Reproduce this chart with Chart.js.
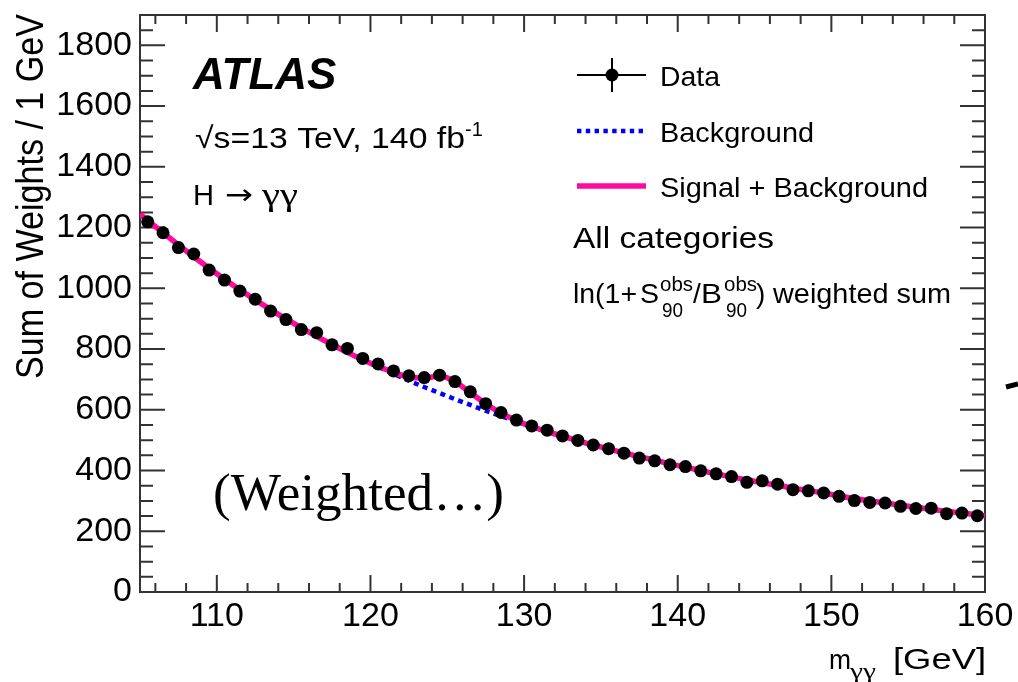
<!DOCTYPE html>
<html>
<head>
<meta charset="utf-8">
<script src="https://cdn.jsdelivr.net/npm/chart.js@4.4.1/dist/chart.umd.min.js"></script>
<style>
  html, body { margin: 0; padding: 0; background: #ffffff; }
  canvas { display: block; }
</style>
</head>
<body>
<canvas id="massPlot" width="1018" height="682"></canvas>
<script>
// Diphoton invariant mass bins (1 GeV wide, bin centres)
const massBins = [
  105.5, 106.5, 107.5, 108.5, 109.5, 110.5, 111.5, 112.5, 113.5, 114.5,
  115.5, 116.5, 117.5, 118.5, 119.5, 120.5, 121.5, 122.5, 123.5, 124.5,
  125.5, 126.5, 127.5, 128.5, 129.5, 130.5, 131.5, 132.5, 133.5, 134.5,
  135.5, 136.5, 137.5, 138.5, 139.5, 140.5, 141.5, 142.5, 143.5, 144.5,
  145.5, 146.5, 147.5, 148.5, 149.5, 150.5, 151.5, 152.5, 153.5, 154.5,
  155.5, 156.5, 157.5, 158.5, 159.5
];

// Weighted event sums per bin
const sumOfWeights = [
  1219, 1183, 1134, 1113, 1060, 1027, 991, 964, 925, 897,
  864, 854, 814, 802, 769, 751, 728, 712, 706, 714,
  693, 659, 620, 591, 566, 547, 533, 514, 499, 484,
  472, 457, 441, 432, 419, 413, 399, 389, 380, 361,
  366, 355, 337, 333, 326, 315, 301, 295, 293, 282,
  275, 276, 258, 260, 251
];

// Mass points at which the fitted curves are evaluated
const curveMass = [
  105, 105.5, 106.5, 107.5, 108.5, 109.5, 110.5, 111.5, 112.5, 113.5, 114.5,
  115.5, 116.5, 117.5, 118.5, 119.5, 120.5, 121.5, 122.5, 123.5, 124.5,
  125.5, 126.5, 127.5, 128.5, 129.5, 130.5, 131.5, 132.5, 133.5, 134.5,
  135.5, 136.5, 137.5, 138.5, 139.5, 140.5, 141.5, 142.5, 143.5, 144.5,
  145.5, 146.5, 147.5, 148.5, 149.5, 150.5, 151.5, 152.5, 153.5, 154.5,
  155.5, 156.5, 157.5, 158.5, 159.5, 160
];

// Background-only fit
const backgroundFit = [
  1244, 1224, 1183, 1143, 1104, 1066, 1030, 995, 962, 930, 899,
  870, 842, 815, 789, 764, 741, 718, 696, 675, 655,
  635, 616, 597, 579, 561, 544, 528, 513, 498, 484,
  471, 458, 446, 434, 422, 411, 400, 389, 379, 369,
  360, 351, 342, 334, 326, 316, 308, 300, 293, 286,
  279, 272, 266, 260, 254, 251
];

// Signal + background fit
const signalPlusBackgroundFit = [
  1244, 1224, 1183, 1143, 1104, 1066, 1030, 995, 962, 930, 899,
  870, 842, 815, 789, 765, 743, 723, 708, 705, 711,
  693, 656, 620, 589, 565, 545, 528, 513, 498, 484,
  471, 458, 446, 434, 422, 411, 400, 389, 379, 369,
  360, 351, 342, 334, 326, 316, 308, 300, 293, 286,
  279, 272, 266, 260, 254, 251
];

// Axis tick labels
const xTickValues = [110, 120, 130, 140, 150, 160];
const yTickValues = [0, 200, 400, 600, 800, 1000, 1200, 1400, 1600, 1800];

const SANS = '"Liberation Sans", Arial, Helvetica, sans-serif';
const SERIF = '"Liberation Serif", "Times New Roman", serif';
const PINK = '#ff0a9c';
const BLUE = '#0000ff';
const AXIS = '#333333';

// Draw text, optionally stretched horizontally to a given advance width
function drawText(ctx, s, x, y, font, width) {
  ctx.save();
  ctx.font = font;
  ctx.fillStyle = '#000';
  ctx.textAlign = 'left';
  ctx.textBaseline = 'alphabetic';
  const w = ctx.measureText(s).width;
  const sx = width ? width / w : 1;
  ctx.translate(x, y);
  ctx.scale(sx, 1);
  ctx.fillText(s, 0, 0);
  ctx.restore();
}

// Frame with inward-pointing major and minor ticks on all four sides
const frameAndTicks = {
  id: 'frameAndTicks',
  beforeDatasetsDraw(chart) {
    const { ctx, chartArea: a, scales: { x, y } } = chart;
    ctx.save();
    ctx.strokeStyle = AXIS;
    ctx.lineWidth = 2;
    ctx.beginPath();
    for (let v = 50; v < y.max; v += 50) {
      const py = y.getPixelForValue(v);
      const len = v % 200 === 0 ? 25 : 13;
      ctx.moveTo(a.left, py); ctx.lineTo(a.left + len, py);
      ctx.moveTo(a.right, py); ctx.lineTo(a.right - len, py);
    }
    for (let v = 106; v < x.max; v += 2) {
      const px = x.getPixelForValue(v);
      const len = v % 10 === 0 ? 17 : 9;
      ctx.moveTo(px, a.bottom); ctx.lineTo(px, a.bottom - len);
      ctx.moveTo(px, a.top); ctx.lineTo(px, a.top + len);
    }
    ctx.stroke();
    ctx.strokeRect(a.left, a.top, a.right - a.left, a.bottom - a.top);
    ctx.restore();
  }
};

// Labels, legend and axis titles
const annotations = {
  id: 'annotations',
  afterDraw(chart) {
    const ctx = chart.ctx;

    drawText(ctx, 'ATLAS', 193, 89, 'italic bold 44px ' + SANS);
    drawText(ctx, '\u221As=13 TeV, 140 fb', 195, 148, '30px ' + SANS, 270);
    drawText(ctx, '-1', 465, 136, '20px ' + SANS);
    drawText(ctx, 'H', 193, 205, '30px ' + SANS, 21);
    drawText(ctx, '\u2192', 225, 204, '28px "DejaVu Sans", ' + SANS, 28);
    drawText(ctx, '\u03B3\u03B3', 262, 205, '31px ' + SERIF, 36);
    drawText(ctx, '(Weighted\u2026)', 213, 510, '52px ' + SERIF, 291);

    // legend
    ctx.save();
    ctx.strokeStyle = '#000';
    ctx.lineWidth = 2;
    ctx.beginPath();
    ctx.moveTo(577, 75); ctx.lineTo(646, 75);
    ctx.moveTo(612, 58); ctx.lineTo(612, 92);
    ctx.stroke();
    ctx.fillStyle = '#000';
    ctx.beginPath(); ctx.arc(612, 75, 6.5, 0, Math.PI * 2); ctx.fill();
    ctx.strokeStyle = BLUE;
    ctx.lineWidth = 4.5;
    ctx.setLineDash([4.4, 4.4]);
    ctx.beginPath(); ctx.moveTo(577, 131); ctx.lineTo(646, 131); ctx.stroke();
    ctx.setLineDash([]);
    ctx.strokeStyle = PINK;
    ctx.lineWidth = 5.5;
    ctx.beginPath(); ctx.moveTo(577, 186); ctx.lineTo(646, 186); ctx.stroke();
    ctx.restore();

    drawText(ctx, 'Data', 660, 86, '28px ' + SANS, 60);
    drawText(ctx, 'Background', 660, 142, '28px ' + SANS, 154);
    drawText(ctx, 'Signal + Background', 660, 197, '28px ' + SANS, 268);
    drawText(ctx, 'All categories', 573, 248, '30px ' + SANS, 201);

    drawText(ctx, 'ln(1+', 573, 303, '28px ' + SANS, 64);
    drawText(ctx, 'S', 640, 303, '28px ' + SANS, 19);
    drawText(ctx, 'obs', 660, 291, '20px ' + SANS, 33);
    drawText(ctx, '90', 662, 317, '20px ' + SANS, 21);
    drawText(ctx, '/', 693, 303, '28px ' + SANS);
    drawText(ctx, 'B', 701, 303, '28px ' + SANS, 21);
    drawText(ctx, 'obs', 724, 291, '20px ' + SANS, 33);
    drawText(ctx, '90', 726, 317, '20px ' + SANS, 21);
    drawText(ctx, ')', 756, 303, '28px ' + SANS);
    drawText(ctx, 'weighted sum', 773, 303, '28px ' + SANS, 178);

    // y-axis title, rotated and right-aligned to the top of the frame
    ctx.save();
    ctx.font = '34px ' + SANS;
    ctx.fillStyle = '#000';
    ctx.textBaseline = 'alphabetic';
    ctx.translate(43, 379);
    ctx.rotate(-Math.PI / 2);
    ctx.scale(1, 1.12);
    const t = 'Sum of Weights / 1 GeV';
    const tw = ctx.measureText(t).width;
    ctx.scale(365 / tw, 1);
    ctx.fillText(t, 0, 0);
    ctx.restore();

    // x-axis title
    drawText(ctx, 'm', 829, 669, '28px ' + SANS, 22);
    drawText(ctx, '\u03B3\u03B3', 850, 678, '20px ' + SERIF, 26);
    drawText(ctx, '[GeV]', 893, 669, '30px ' + SANS, 93);

    // stroke at the right edge
    ctx.save();
    ctx.strokeStyle = '#000';
    ctx.lineWidth = 5;
    ctx.beginPath(); ctx.moveTo(1006, 387); ctx.lineTo(1018, 384); ctx.stroke();
    ctx.restore();
  }
};

new Chart(document.getElementById('massPlot'), {
  type: 'scatter',
  data: {
    datasets: [
      {
        label: 'Data',
        data: massBins.map((m, i) => ({ x: m, y: sumOfWeights[i] })),
        showLine: false,
        pointRadius: 6.5,
        pointHoverRadius: 6.5,
        pointBackgroundColor: '#000',
        pointBorderWidth: 0,
        order: 0
      },
      {
        label: 'Signal + Background',
        type: 'line',
        data: curveMass.map((m, i) => ({ x: m, y: signalPlusBackgroundFit[i] })),
        showLine: true,
        borderColor: PINK,
        borderWidth: 5.5,
        pointRadius: 0,
        cubicInterpolationMode: 'monotone',
        fill: false,
        order: 1
      },
      {
        label: 'Background',
        type: 'line',
        data: curveMass.map((m, i) => ({ x: m, y: backgroundFit[i] })),
        showLine: true,
        borderColor: BLUE,
        borderWidth: 4.5,
        borderDash: [5, 4.5],
        pointRadius: 0,
        cubicInterpolationMode: 'monotone',
        fill: false,
        order: 2
      }
    ]
  },
  options: {
    responsive: false,
    animation: false,
    devicePixelRatio: 1,
    layout: { padding: { left: 0, right: 33, top: 15, bottom: 0 } },
    plugins: { legend: { display: false }, tooltip: { enabled: false } },
    scales: {
      x: {
        type: 'linear',
        min: 105,
        max: 160,
        afterBuildTicks(s) { s.ticks = xTickValues.map(v => ({ value: v })); },
        afterFit(s) { s.height = 90; s.paddingLeft = 0; s.paddingRight = 0; },
        grid: { display: false, drawTicks: false },
        border: { display: false },
        ticks: {
          font: { family: SANS, size: 34 },
          color: '#000',
          padding: 4,
          maxRotation: 0,
          autoSkip: false,
          callback: v => String(v)
        }
      },
      y: {
        type: 'linear',
        min: 0,
        max: 1900,
        afterBuildTicks(s) { s.ticks = yTickValues.map(v => ({ value: v })); },
        afterFit(s) { s.width = 140; s.paddingTop = 0; s.paddingBottom = 0; },
        grid: { display: false, drawTicks: false },
        border: { display: false },
        ticks: {
          font: { family: SANS, size: 34 },
          color: '#000',
          padding: 8,
          autoSkip: false,
          callback: v => String(v)
        }
      }
    }
  },
  plugins: [frameAndTicks, annotations]
});
</script>
</body>
</html>
